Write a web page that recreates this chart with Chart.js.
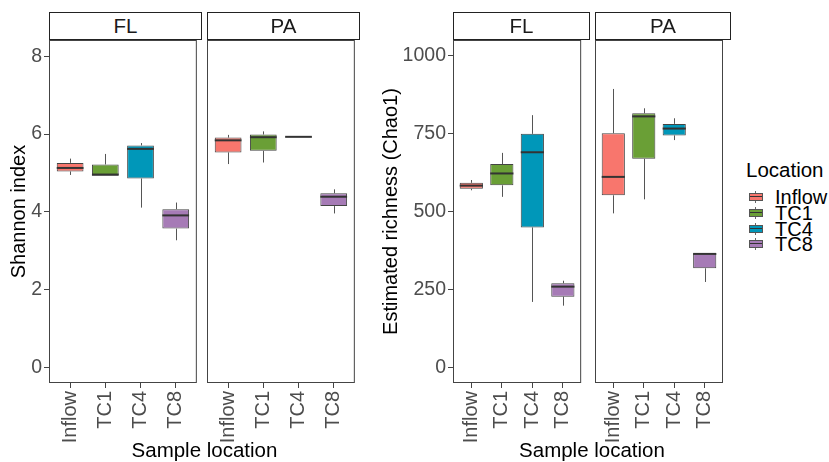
<!DOCTYPE html>
<html><head><meta charset="utf-8">
<script src="https://cdn.jsdelivr.net/npm/chart.js@4/dist/chart.umd.min.js"></script>
<style>
html,body{margin:0;padding:0;background:#fff}
body{width:829px;height:462px;overflow:hidden;position:relative;font-family:"Liberation Sans",Arial,sans-serif}
canvas{position:absolute;top:0}
.strip{position:absolute;top:12px;height:28px;box-sizing:border-box;border:1px solid #222;background:#fff;color:#1a1a1a;font-size:20.5px;line-height:26px;text-align:center}
.xtitle{position:absolute;top:438px;font-size:20.5px;line-height:24px;color:#000;text-align:center;white-space:nowrap}
#legend{position:absolute;left:746px;top:0}
.ltitle{position:absolute;left:0;top:158px;font-size:20.5px;line-height:24px;white-space:nowrap;color:#000}
.lrow{position:absolute;left:0;height:16px;width:84px}
.lkey{position:absolute;left:3px;top:4px;width:14px;height:8px;box-sizing:border-box;border:1px solid #555}
.lkey:before{content:"";position:absolute;left:5px;top:-3px;width:1px;height:2px;background:#666}
.lkey:after{content:"";position:absolute;left:5px;bottom:-3px;width:1px;height:2px;background:#666}
.lmed{position:absolute;left:0;right:0;top:2px;height:1px;background:#333}
.ltext{position:absolute;left:29px;top:0;font-size:20px;line-height:16px;white-space:nowrap;color:#000}
</style>
</head><body>
<canvas id="sfl" width="203" height="462" style="left:0"></canvas>
<canvas id="spa" width="156" height="462" style="left:205px"></canvas>
<canvas id="cfl" width="220" height="462" style="left:370px"></canvas>
<canvas id="cpa" width="139" height="462" style="left:593px"></canvas>

<div class="strip" style="left:49px;width:153px">FL</div>
<div class="strip" style="left:207px;width:153px">PA</div>
<div class="strip" style="left:453px;width:137px">FL</div>
<div class="strip" style="left:595px;width:136px">PA</div>

<div class="xtitle" style="left:49px;width:311px">Sample location</div>
<div class="xtitle" style="left:453px;width:278px">Sample location</div>

<div id="legend"></div>

<script>
// ---- data ----
const categories = ["Inflow", "TC1", "TC4", "TC8"];
const colors = ["#F8766D", "#6A9F36", "#0097B9", "#A67BB6"];
const facets = ["FL", "PA"];
const legendTitle = "Location";

const shannonTicks = [0, 2, 4, 6, 8];
const chaoTicks = [0, 250, 500, 750, 1000];

// Shannon index, FL
const shFL_lo  = [4.95, 4.93, 4.11, 3.27];
const shFL_q1  = [5.04, 4.93, 4.86, 3.57];
const shFL_med = [5.13, 4.96, 5.62, 3.91];
const shFL_q3  = [5.26, 5.22, 5.71, 4.07];
const shFL_hi  = [5.37, 5.49, 5.77, 4.24];
// Shannon index, PA
const shPA_lo  = [5.23, 5.27, 5.93, 3.96];
const shPA_q1  = [5.53, 5.57, 5.93, 4.15];
const shPA_med = [5.84, 5.92, 5.93, 4.39];
const shPA_q3  = [5.91, 5.99, 5.93, 4.48];
const shPA_hi  = [5.98, 6.07, 5.93, 4.58];
// Chao1, FL
const chFL_lo  = [568, 547, 210, 198];
const chFL_q1  = [573, 584, 449, 227];
const chFL_med = [583, 622, 690, 259];
const chFL_q3  = [592, 652, 749, 270];
const chFL_hi  = [601, 688, 809, 278];
// Chao1, PA
const chPA_lo  = [494, 539, 729, 274];
const chPA_q1  = [552, 669, 744, 318];
const chPA_med = [611, 805, 766, 364];
const chPA_q3  = [751, 815, 781, 366];
const chPA_hi  = [893, 831, 799, 366];

// ---- rendering ----
const FONT = '"Liberation Sans", Arial, sans-serif';

const boxPlugin = {
  id: 'boxExtras',
  afterDatasetsDraw(chart, args, opts) {
    const ctx = chart.ctx, xs = chart.scales.x, ys = chart.scales.y;
    const meta = chart.getDatasetMeta(0);
    ctx.save();
    opts.lo.forEach((lo, i) => {
      const x = Math.round(xs.getPixelForValue(i)) + 0.5;
      const bar = meta.data[i];
      ctx.strokeStyle = '#555'; ctx.lineWidth = 1;
      ctx.beginPath();
      ctx.moveTo(x, ys.getPixelForValue(opts.hi[i])); ctx.lineTo(x, ys.getPixelForValue(opts.q3[i]));
      ctx.moveTo(x, ys.getPixelForValue(opts.q1[i])); ctx.lineTo(x, ys.getPixelForValue(lo));
      ctx.stroke();
      const y = ys.getPixelForValue(opts.med[i]);
      ctx.strokeStyle = '#333'; ctx.lineWidth = 2;
      ctx.beginPath();
      ctx.moveTo(bar.x - bar.width / 2, y); ctx.lineTo(bar.x + bar.width / 2, y);
      ctx.stroke();
    });
    ctx.restore();
  },
  afterDraw(chart) {
    const a = chart.chartArea, ctx = chart.ctx;
    ctx.save();
    ctx.strokeStyle = '#444'; ctx.lineWidth = 1;
    ctx.strokeRect(a.left + 0.5, a.top + 0.5, a.right - a.left - 1, a.bottom - a.top - 1);
    ctx.restore();
  }
};

function makeChart(id, lo, q1, med, q3, hi, yMin, yMax, yTicks, showY, yTitle, titlePad, yWidth, pad) {
  return new Chart(document.getElementById(id), {
    type: 'bar',
    data: {
      datasets: [{
        data: categories.map((c, i) => ({ x: i, y: [q1[i], q3[i]] })),
        backgroundColor: colors,
        borderColor: '#444',
        borderWidth: 1,
        borderSkipped: false,
        barPercentage: 0.76,
        categoryPercentage: 1
      }]
    },
    options: {
      responsive: false,
      animation: false,
      devicePixelRatio: 1,
      layout: { padding: pad },
      plugins: {
        legend: { display: false },
        tooltip: { enabled: false },
        boxExtras: { lo, q1, med, q3, hi }
      },
      scales: {
        x: {
          type: 'linear', min: -0.6, max: 3.6, offset: false,
          afterBuildTicks: s => { s.ticks = categories.map((c, i) => ({ value: i })); },
          afterFit: s => { s.height = 79; },
          grid: { display: true, offset: false, drawOnChartArea: false, drawTicks: true, tickLength: 5, tickColor: '#444', tickWidth: 1 },
          border: { display: false },
          ticks: {
            autoSkip: false, maxRotation: 90, minRotation: 90, padding: 3,
            color: '#4d4d4d', font: { family: FONT, size: 20 },
            callback: v => categories[Math.round(v)]
          }
        },
        y: {
          type: 'linear', min: yMin, max: yMax, display: showY,
          afterBuildTicks: s => { s.ticks = yTicks.map(v => ({ value: v })); },
          afterFit: s => { if (showY) s.width = yWidth; },
          grid: { display: true, drawOnChartArea: false, drawTicks: true, tickLength: 5, tickColor: '#444', tickWidth: 1 },
          border: { display: false },
          ticks: { padding: 2, color: '#4d4d4d', font: { family: FONT, size: 19.5 }, callback: v => String(v) },
          title: { display: !!yTitle, text: yTitle, color: '#000', font: { family: FONT, size: 20 }, padding: { top: titlePad, bottom: 0 } }
        }
      }
    },
    plugins: [boxPlugin]
  });
}

makeChart('sfl', shFL_lo, shFL_q1, shFL_med, shFL_q3, shFL_hi, -0.4, 8.42, shannonTicks, true, 'Shannon index', 7, 49, { top: 40, right: 2, left: 0, bottom: 0 });
makeChart('spa', shPA_lo, shPA_q1, shPA_med, shPA_q3, shPA_hi, -0.4, 8.42, shannonTicks, false, '', 0, 0, { top: 40, right: 2, left: 2, bottom: 0 });
makeChart('cfl', chFL_lo, chFL_q1, chFL_med, chFL_q3, chFL_hi, -50, 1050, chaoTicks, true, 'Estimated richness (Chao1)', 9, 83, { top: 40, right: 1, left: 0, bottom: 0 });
makeChart('cpa', chPA_lo, chPA_q1, chPA_med, chPA_q3, chPA_hi, -50, 1050, chaoTicks, false, '', 0, 0, { top: 40, right: 2, left: 2, bottom: 0 });

// legend
const lg = document.getElementById('legend');
const t = document.createElement('div'); t.className = 'ltitle'; t.textContent = legendTitle; lg.appendChild(t);
categories.forEach((c, i) => {
  const r = document.createElement('div'); r.className = 'lrow';
  r.style.top = (189 + i * 15.8) + 'px';
  r.innerHTML = '<div class="lkey" style="background:' + colors[i] + '"><div class="lmed"></div></div><div class="ltext"></div>';
  r.querySelector('.ltext').textContent = c;
  lg.appendChild(r);
});
</script>
</body></html>
